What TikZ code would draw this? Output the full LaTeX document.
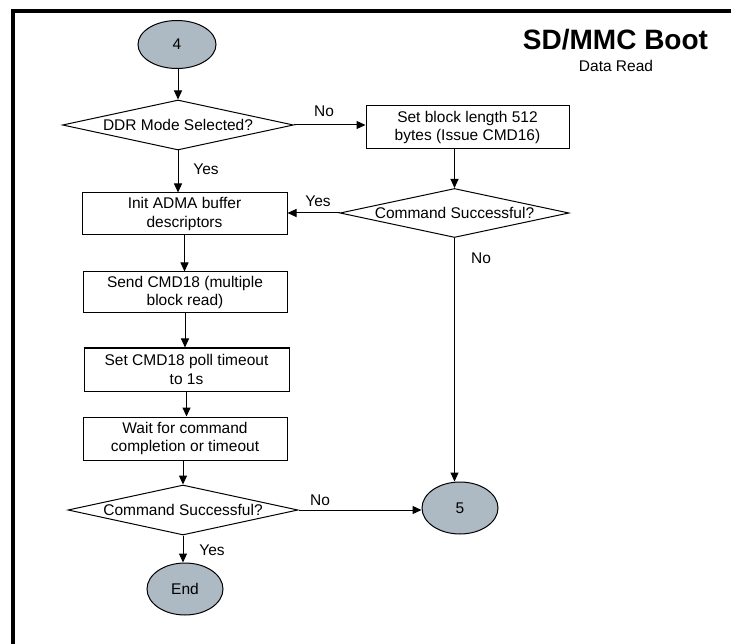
\documentclass[tikz,border=0pt]{standalone}
\usepackage{fontspec}
\setmainfont{Liberation Sans}
\usetikzlibrary{shapes.geometric,arrows.meta}
\definecolor{termfill}{RGB}{173,185,195}
\begin{document}
\begin{tikzpicture}[x=1pt,y=-1pt,
  every node/.style={font=\fontsize{15.5}{18.3}\selectfont},
  term/.style={ellipse, draw, fill=termfill, line width=1pt, inner sep=0pt},
  proc/.style={rectangle, draw, line width=1pt, align=center, inner sep=0pt},
  dec/.style={diamond, draw, aspect=4.6, line width=1pt, inner sep=0pt},
  flow/.style={-{Triangle[length=9pt,width=8pt]}, line width=1pt},
  lbl/.style={anchor=base, inner sep=0pt}]
\useasboundingbox (0,0) rectangle (731,644);
% frame
\draw[line width=4pt, line join=miter] (13,646) -- (13,11) -- (733,11);
% title
\node[anchor=base, inner sep=0pt, font=\fontsize{28}{32}\selectfont\bfseries] (title) at (615.5,50) {SD/MMC Boot};
\node[anchor=base, inner sep=0pt] (subtitle) at (616,72) {Data Read};
% nodes
\node[term, minimum width=78pt, minimum height=48pt] (c4) at (177,44.5) {4};
\node[dec, minimum width=231pt, minimum height=50pt] (d1) at (178,125) {DDR Mode Selected?};
\node[proc, minimum width=203pt, minimum height=43pt] (b1) at (467.5,127.5) {Set block length 512\\bytes (Issue CMD16)};
\node[dec, minimum width=229pt, minimum height=49pt] (d2) at (454.5,213) {Command Successful?};
\node[proc, minimum width=205pt, minimum height=42pt] (b2) at (184.5,214) {Init ADMA buffer\\descriptors};
\node[proc, minimum width=204pt, minimum height=41pt] (b3) at (185,292.5) {Send CMD18 (multiple\\block read)};
\node[proc, minimum width=205pt, minimum height=43pt] (b4) at (186.5,369.5) {Set CMD18 poll timeout\\to 1s};
\node[proc, minimum width=204pt, minimum height=43pt] (b5) at (185,438.5) {Wait for command\\completion or timeout};
\node[dec, minimum width=230pt, minimum height=50pt] (d3) at (183,510) {Command Successful?};
\node[term, minimum width=76pt, minimum height=52pt] (cend) at (185,589) {End};
\node[term, minimum width=76pt, minimum height=52pt] (c5) at (460,508) {5};
% connectors
\draw[flow] (c4.south -| d1.north) -- (d1.north);
\draw[flow] (d1.south) -- (d1.south |- b2.north);
\draw[flow] (d1.east) -- (d1.east -| b1.west);
\draw[flow] (b1.south -| d2.north) -- (d2.north);
\draw[flow] (d2.west) -- (d2.west -| b2.east);
\draw[flow] (d2.south) -- (d2.south |- c5.north);
\draw[flow] (b2.south) -- (b2.south |- b3.north);
\draw[flow] (b3.south) -- (b3.south |- b4.north);
\draw[flow] (b4.south) -- (b4.south |- b5.north);
\draw[flow] (b5.south -| d3.north) -- (d3.north);
\draw[flow] (d3.south) -- (d3.south |- cend.north);
\draw[flow] (d3.east) -- (d3.east -| c5.west);
% labels
\node[lbl] (l1) at (206,175) {Yes};
\node[lbl] (l2) at (324,117) {No};
\node[lbl] (l3) at (318,207) {Yes};
\node[lbl] (l4) at (481,264) {No};
\node[lbl] (l5) at (320,505) {No};
\node[lbl] (l6) at (212,555) {Yes};
\end{tikzpicture}
\end{document}
